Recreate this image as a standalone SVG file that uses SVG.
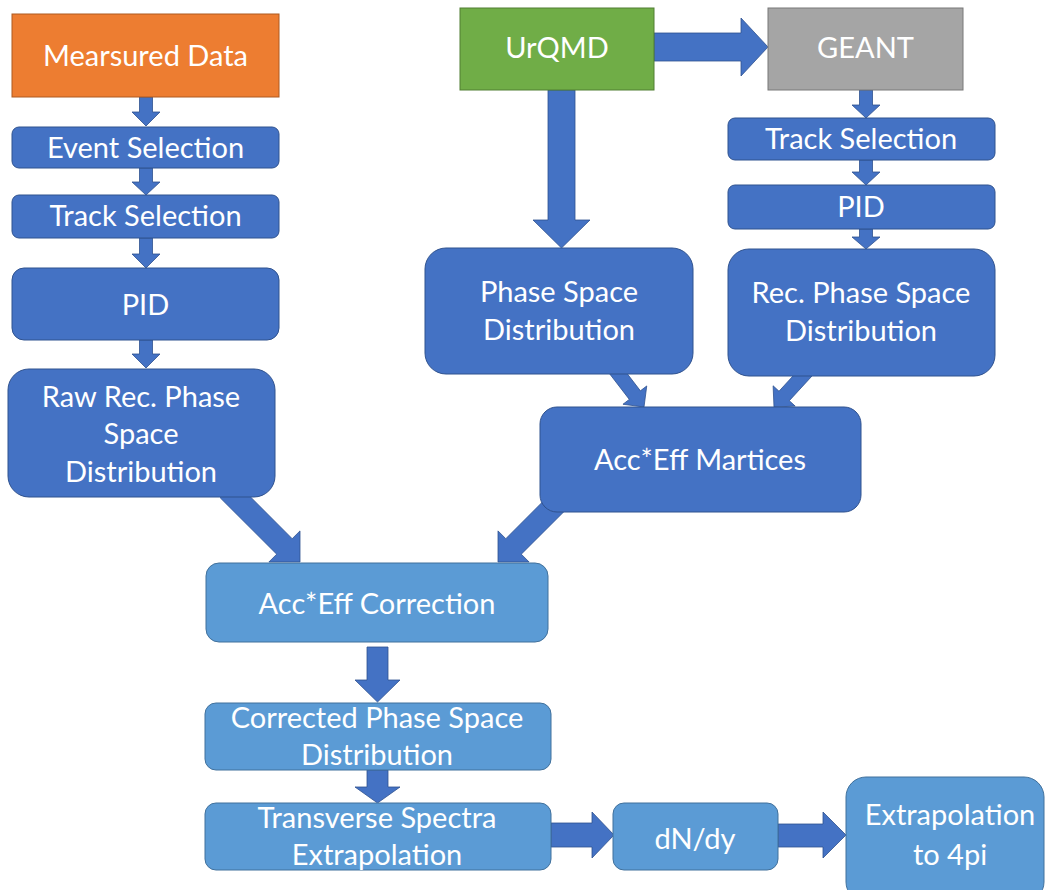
<svg xmlns="http://www.w3.org/2000/svg" width="1046" height="890" viewBox="0 0 1046 890">
  <style>
    text { font-family: Lato, "Liberation Sans", sans-serif; font-size: 29px; fill: #ffffff; text-anchor: middle; }
    .dark { fill: #4472C4; stroke: #2F528F; stroke-width: 1; }
    .light { fill: #5B9BD5; stroke: #41719C; stroke-width: 1; }
    .orange { fill: #ED7D31; stroke: #AE5A21; stroke-width: 1; }
    .green { fill: #70AD47; stroke: #507E32; stroke-width: 1; }
    .grey { fill: #A5A5A5; stroke: #787878; stroke-width: 1; }
    .arrow { fill: #4472C4; stroke: #2F528F; stroke-width: 0.8; stroke-linejoin: miter; }
  </style>
  <rect width="1046" height="890" fill="#ffffff"/>

  <!-- block arrows -->
  <g id="connectors">
    <!-- measured data column -->
    <polygon class="arrow" points="139.5,97 152.5,97 152.5,112 160,112 146,126 132,112 139.5,112"/>
    <polygon class="arrow" points="139.5,168 152.5,168 152.5,182 160,182 146,195 132,182 139.5,182"/>
    <polygon class="arrow" points="139.5,238 152.5,238 152.5,254 160,254 146,268 132,254 139.5,254"/>
    <polygon class="arrow" points="139.5,340 152.5,340 152.5,354 160,354 146,368 132,354 139.5,354"/>
    <!-- simulation column -->
    <polygon class="arrow" points="654,33 741,33 741,18 768,47 741,76 741,61 654,61"/>
    <polygon class="arrow" points="548,90 575,90 575,220 590,220 561.5,248 533,220 548,220"/>
    <polygon class="arrow" points="859.5,90 872.5,90 872.5,105 880,105 866,118 852,105 859.5,105"/>
    <polygon class="arrow" points="859.5,160 872.5,160 872.5,172 880,172 866,185 852,172 859.5,172"/>
    <polygon class="arrow" points="859.5,229 872.5,229 872.5,237 880,237 866,249 852,237 859.5,237"/>
    <!-- into the matrices -->
    <polygon class="arrow" points="608.45,372.27 629.30,399.38 622.96,404.26 644,407 646.74,385.96 640.40,390.84 619.55,363.73"/>
    <polygon class="arrow" points="802.85,365.26 779.0,391.22 773.11,385.81 774,407 795.19,406.11 789.30,400.70 813.15,374.74"/>
    <!-- into the correction -->
    <polygon class="arrow" points="220.2,497.8 276.7,554.2 268.9,562 300,562 300,530.9 292.2,538.7 235.8,482.2"/>
    <polygon class="arrow" points="554.2,490.2 505.8,538.7 498,530.9 498,562 529.1,562 521.3,554.2 569.8,505.8"/>
    <!-- result chain -->
    <polygon class="arrow" points="367,647 388,647 388,680 400,680 377.5,702 355,680 367,680"/>
    <polygon class="arrow" points="367,770 388,770 388,787 400,787 377.5,803 355,787 367,787"/>
    <polygon class="arrow" points="551,823 592,823 592,812 614,835 592,858 592,847 551,847"/>
    <polygon class="arrow" points="778,824 823,824 823,812 846,835 823,858 823,847 778,847"/>
  </g>

  <g id="measured-data">
    <rect class="orange" x="12" y="14" width="267" height="83"/>
    <text x="145.5" y="66">Mearsured Data</text>
  </g>
  <g id="event-selection">
    <rect class="dark" x="12" y="127" width="267" height="41" rx="7"/>
    <text x="145.5" y="158">Event Selection</text>
  </g>
  <g id="track-selection-data">
    <rect class="dark" x="12" y="195" width="267" height="43" rx="7"/>
    <text x="145.5" y="226">Track Selection</text>
  </g>
  <g id="pid-data">
    <rect class="dark" x="12" y="268" width="267" height="72" rx="12"/>
    <text x="145.5" y="315">PID</text>
  </g>
  <g id="raw-rec-phase-space">
    <rect class="dark" x="8" y="369" width="267" height="128" rx="21"/>
    <text x="141" y="407">Raw Rec. Phase</text>
    <text x="141" y="444">Space</text>
    <text x="141" y="482">Distribution</text>
  </g>

  <g id="urqmd">
    <rect class="green" x="460" y="8" width="194" height="82"/>
    <text x="557" y="58">UrQMD</text>
  </g>
  <g id="geant">
    <rect class="grey" x="768" y="8" width="195" height="82"/>
    <text x="865.5" y="58">GEANT</text>
  </g>
  <g id="track-selection-sim">
    <rect class="dark" x="728" y="118" width="267" height="42" rx="7"/>
    <text x="861" y="149">Track Selection</text>
  </g>
  <g id="pid-sim">
    <rect class="dark" x="728" y="185" width="267" height="44" rx="7"/>
    <text x="861" y="217">PID</text>
  </g>
  <g id="phase-space">
    <rect class="dark" x="425" y="248" width="268" height="126" rx="21"/>
    <text x="559" y="302">Phase Space</text>
    <text x="559" y="340">Distribution</text>
  </g>
  <g id="rec-phase-space">
    <rect class="dark" x="728" y="249" width="267" height="127" rx="21"/>
    <text x="861" y="303">Rec. Phase Space</text>
    <text x="861" y="341">Distribution</text>
  </g>
  <g id="acc-eff-matrices">
    <rect class="dark" x="540" y="407" width="321" height="105" rx="17"/>
    <text x="700" y="470">Acc*Eff Martices</text>
  </g>

  <g id="acc-eff-correction">
    <rect class="light" x="206" y="563" width="342" height="79" rx="13"/>
    <text x="377" y="614">Acc*Eff Correction</text>
  </g>
  <g id="corrected-phase-space">
    <rect class="light" x="205" y="703" width="346" height="67" rx="11"/>
    <text x="377" y="728">Corrected Phase Space</text>
    <text x="377" y="765">Distribution</text>
  </g>
  <g id="transverse-spectra">
    <rect class="light" x="205" y="803" width="346" height="67" rx="11"/>
    <text x="377" y="828">Transverse Spectra</text>
    <text x="377" y="865">Extrapolation</text>
  </g>
  <g id="dndy">
    <rect class="light" x="613" y="803" width="165" height="67" rx="11"/>
    <text x="695" y="849">dN/dy</text>
  </g>
  <g id="extrapolation-4pi">
    <rect class="light" x="846" y="777" width="198" height="125" rx="20"/>
    <text x="950" y="825">Extrapolation</text>
    <text x="950" y="865">to 4pi</text>
  </g>
</svg>
